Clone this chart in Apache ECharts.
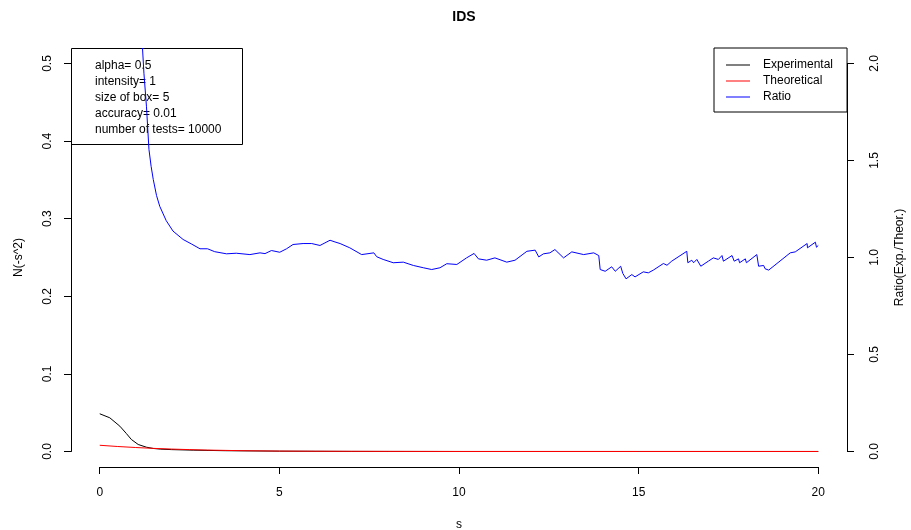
<!DOCTYPE html>
<html>
<head>
<meta charset="utf-8">
<title>IDS</title>
<script src="https://cdn.jsdelivr.net/npm/echarts@6/dist/echarts.min.js"></script>
<style>
    html, body { margin: 0; padding: 0; background: #fff; }
    #ids-chart { width: 911px; height: 530px; }
</style>
</head>
<body>
<div id="ids-chart"></div>
<script>
// 数据：横坐标 s 和三条曲线
var sExp = [0, 0.28, 0.56, 0.74, 0.88, 1.07, 1.3, 1.49, 1.7, 2.0, 2.6, 3.5, 5, 7, 10, 15, 20];
var expVals = [0.0486, 0.0434, 0.0326, 0.0232, 0.0155, 0.009, 0.0055, 0.0039, 0.003, 0.0024, 0.0017, 0.001, 0.0004, 0.0001, 0, 0, 0];

var sTheo = [0, 0.5, 1, 1.5, 2, 2.5, 3, 4, 5, 6, 8, 10, 15, 20];
var theoVals = [0.008, 0.0064, 0.0051, 0.004, 0.0031, 0.0024, 0.0018, 0.001, 0.0005, 0.0003, 0.0001, 0, 0, 0];

var sRatio = [1.19, 1.23, 1.3, 1.37, 1.43, 1.49, 1.58, 1.67, 1.85, 2.04, 2.32, 2.55, 2.79, 3.0, 3.2, 3.53, 3.8, 4.18, 4.46, 4.6,
    4.78, 5.01, 5.2, 5.38, 5.66, 5.9, 6.13, 6.41, 6.55, 6.69, 6.96, 7.29, 7.63, 7.71, 7.89, 8.17, 8.45, 8.73, 9.01, 9.24,
    9.47, 9.66, 9.94, 10.21, 10.42, 10.54, 10.77, 11.0, 11.33, 11.56, 11.89, 12.12, 12.22, 12.35, 12.53, 12.67, 12.91, 13.14, 13.47, 13.75,
    13.89, 13.93, 14.07, 14.25, 14.35, 14.5, 14.56, 14.65, 14.81, 14.9, 15.13, 15.27, 15.41, 15.69, 15.79, 15.92, 16.34, 16.37, 16.48, 16.53,
    16.62, 16.73, 16.94, 17.08, 17.22, 17.32, 17.36, 17.6, 17.66, 17.78, 17.81, 17.97, 18.0, 18.29, 18.34, 18.48, 18.52, 18.62, 19.22, 19.36,
    19.69, 19.7, 19.92, 19.95, 20.0];
var ratioVals = [2.08, 1.95, 1.78, 1.557, 1.47, 1.402, 1.32, 1.264, 1.19, 1.136, 1.093, 1.07, 1.045, 1.045, 1.03, 1.019, 1.022, 1.015, 1.024, 1.02,
    1.036, 1.027, 1.045, 1.067, 1.072, 1.072, 1.062, 1.089, 1.08, 1.072, 1.05, 1.015, 1.024, 1.004, 0.99, 0.973, 0.976, 0.959, 0.947, 0.938,
    0.947, 0.968, 0.964, 0.998, 1.021, 0.993, 0.986, 0.998, 0.976, 0.986, 1.032, 1.038, 1.003, 1.019, 1.024, 1.041, 0.998, 1.029, 1.015, 1.024,
    1.01, 0.938, 0.929, 0.952, 0.929, 0.955, 0.918, 0.89, 0.912, 0.9, 0.926, 0.921, 0.935, 0.969, 0.96, 0.981, 1.032, 0.973, 0.986, 0.973,
    0.99, 0.955, 0.981, 0.998, 0.99, 1.01, 0.981, 1.01, 0.981, 0.993, 0.973, 0.993, 0.973, 1.015, 0.955, 0.959, 0.942, 0.935, 1.024, 1.029,
    1.072, 1.05, 1.079, 1.053, 1.062];

var xTicks = [0, 20, 5];      // min, max, interval
var leftTicks = [0, 0.5, 0.1];
var rightTicks = [0, 2, 0.5];
var infoLines = ['alpha= 0.5', 'intensity= 1', 'size of box= 5', 'accuracy= 0.01', 'number of tests= 10000'];

function pairs(xs, ys) {
    return xs.map(function (x, i) { return [x, ys[i]]; });
}

var fontFam = 'Liberation Sans, Arial, Helvetica, sans-serif';
var idsChart = echarts.init(document.getElementById('ids-chart'));

// R 风格：绘图区比数据范围多出 4%
function padRange(t) {
    var d = (t[1] - t[0]) * 0.04;
    return [t[0] - d, t[1] + d];
}
var xr = padRange(xTicks), lr = padRange(leftTicks), rr = padRange(rightTicks);

var plotL = 71, plotR = 847, plotT = 48, plotB = 467;
var pw = plotR - plotL, ph = plotB - plotT;
var offX = pw * 0.04 / 1.08, offY = ph * 0.04 / 1.08;

function numAxis(grid, t, pos, offset, rotate, margin, name, gap) {
    return {
        type: 'value',
        gridIndex: grid,
        position: pos,
        offset: offset,
        min: t[0], max: t[1], interval: t[2],
        name: name,
        nameLocation: 'middle',
        nameGap: gap,
        nameRotate: pos === 'bottom' ? 0 : 90,
        nameTextStyle: {color: '#000', fontSize: 12, fontFamily: fontFam},
        axisLine: {show: true, onZero: false, lineStyle: {color: '#000', width: 1}},
        axisTick: {show: true, inside: false, length: 7, lineStyle: {color: '#000'}},
        axisLabel: {
            color: '#000', fontSize: 12, fontFamily: fontFam, margin: margin, rotate: rotate,
            formatter: function (v) { return t[2] < 1 ? v.toFixed(1) : String(v); }
        },
        splitLine: {show: false}
    };
}

var option = {
    animation: false,
    backgroundColor: '#fff',
    title: {
        text: 'IDS',
        left: (plotL + plotR) / 2,
        textAlign: 'center',
        top: 5,
        textStyle: {fontSize: 14, fontWeight: 'bold', color: '#000', fontFamily: fontFam}
    },
    legend: {
        orient: 'vertical',
        left: 714,
        top: 48,
        icon: 'rect',
        itemWidth: 24,
        itemHeight: 1,
        itemGap: 4,
        padding: [11, 14, 9, 12],
        borderColor: '#000',
        borderWidth: 1,
        borderRadius: 0,
        textStyle: {color: '#000', fontSize: 12, fontFamily: fontFam, padding: [0, 0, 0, 8]},
        data: ['Experimental', 'Theoretical', 'Ratio']
    },
    grid: [
        // 数据区
        {left: plotL, right: 911 - plotR, top: plotT, bottom: 530 - plotB, outerBoundsMode: 'none'},
        // 坐标轴区（只画 0..20, 0..0.5, 0..2）
        {left: plotL + offX, right: 911 - plotR + offX, top: plotT + offY, bottom: 530 - plotB + offY, outerBoundsMode: 'none'}
    ],
    xAxis: [
        {type: 'value', gridIndex: 0, min: xr[0], max: xr[1], show: false},
        numAxis(1, xTicks, 'bottom', offY, 0, 20, 's', 52)
    ],
    yAxis: [
        {type: 'value', gridIndex: 0, min: lr[0], max: lr[1], show: false},
        {type: 'value', gridIndex: 0, min: rr[0], max: rr[1], show: false},
        numAxis(1, leftTicks, 'left', offX, 90, 17, 'N(-s^2)', 46),
        numAxis(1, rightTicks, 'right', offX, 90, 22, 'Ratio(Exp./Theor.)', 47)
    ],
    graphic: [{
        type: 'group',
        left: 71,
        top: 48,
        children: [
            {type: 'rect', shape: {x: 0.5, y: 0.5, width: 171, height: 96}, style: {fill: '#fff', stroke: '#000', lineWidth: 1}},
            {type: 'text', x: 24, y: 10, style: {text: infoLines.join('\n'), fill: '#000', font: '12px ' + fontFam, lineHeight: 16}}
        ],
        z: 1
    }],
    series: [
        {
            name: 'Experimental', type: 'line', xAxisIndex: 0, yAxisIndex: 0,
            symbol: 'none', color: '#000', lineStyle: {color: '#000', width: 1},
            data: pairs(sExp, expVals), z: 2
        },
        {
            name: 'Theoretical', type: 'line', xAxisIndex: 0, yAxisIndex: 0,
            symbol: 'none', color: '#ff0000', lineStyle: {color: '#ff0000', width: 1},
            data: pairs(sTheo, theoVals), z: 3
        },
        {
            name: 'Ratio', type: 'line', xAxisIndex: 0, yAxisIndex: 1,
            symbol: 'none', color: '#0000ff', lineStyle: {color: '#0000ff', width: 1},
            data: pairs(sRatio, ratioVals), z: 4
        }
    ]
};
idsChart.setOption(option);
</script>
</body>
</html>
